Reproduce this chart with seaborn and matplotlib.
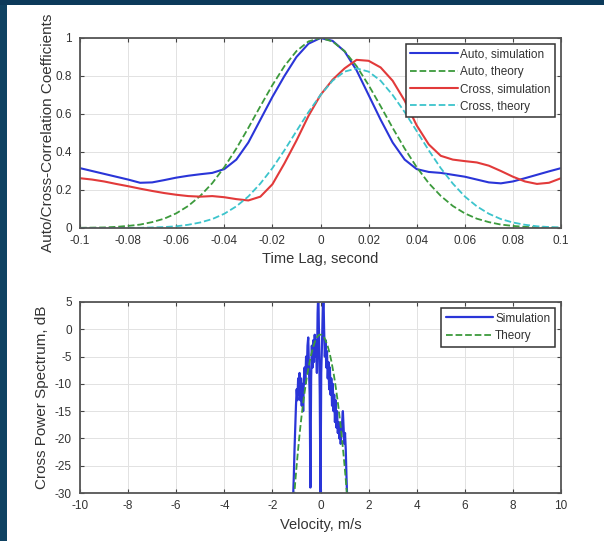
import numpy as np
import pandas as pd
import seaborn as sns
import matplotlib.pyplot as plt
from matplotlib.patches import Rectangle

# ---------------- data ----------------
lag = [-0.1, -0.095, -0.09, -0.085, -0.08, -0.075, -0.07, -0.065, -0.06, -0.055,
       -0.05, -0.045, -0.04, -0.035, -0.03, -0.025, -0.02, -0.015, -0.01, -0.005,
       0.0, 0.005, 0.01, 0.015, 0.02, 0.025, 0.03, 0.035, 0.04, 0.045,
       0.05, 0.055, 0.06, 0.065, 0.07, 0.075, 0.08, 0.085, 0.09, 0.095, 0.1]

auto_sim = [0.315, 0.30, 0.285, 0.27, 0.255, 0.238, 0.24, 0.252, 0.265, 0.275,
            0.283, 0.29, 0.31, 0.36, 0.45, 0.57, 0.69, 0.80, 0.90, 0.97,
            1.0, 0.985, 0.93, 0.83, 0.70, 0.57, 0.45, 0.36, 0.31, 0.295,
            0.29, 0.28, 0.27, 0.255, 0.24, 0.235, 0.245, 0.262, 0.28, 0.298, 0.315]

auto_theory = [0.001, 0.002, 0.003, 0.006, 0.011, 0.018, 0.031, 0.049, 0.077, 0.116,
               0.169, 0.236, 0.320, 0.418, 0.527, 0.641, 0.752, 0.852, 0.931, 0.982,
               1.0, 0.982, 0.931, 0.852, 0.752, 0.641, 0.527, 0.418, 0.320, 0.236,
               0.169, 0.116, 0.077, 0.049, 0.031, 0.018, 0.011, 0.006, 0.003, 0.002, 0.001]

cross_sim = [0.262, 0.255, 0.245, 0.232, 0.22, 0.207, 0.195, 0.184, 0.175, 0.168,
             0.165, 0.168, 0.162, 0.152, 0.145, 0.165, 0.23, 0.34, 0.46, 0.59,
             0.70, 0.78, 0.84, 0.885, 0.88, 0.845, 0.775, 0.67, 0.54, 0.44,
             0.38, 0.36, 0.352, 0.345, 0.328, 0.30, 0.27, 0.245, 0.232, 0.238, 0.262]

cross_theory = [0.0, 0.0, 0.0, 0.0, 0.001, 0.001, 0.003, 0.005, 0.009, 0.017,
                0.029, 0.047, 0.075, 0.114, 0.166, 0.234, 0.315, 0.409, 0.51, 0.61,
                0.70, 0.775, 0.823, 0.84, 0.823, 0.775, 0.70, 0.61, 0.51, 0.409,
                0.315, 0.234, 0.166, 0.114, 0.075, 0.047, 0.029, 0.017, 0.009, 0.005, 0.003]

velocity_sim = [-1.14, -1.11, -1.08, -1.05, -1.02, -0.99, -0.96, -0.93, -0.90, -0.87,
                -0.84, -0.81, -0.78, -0.75, -0.72, -0.69, -0.66, -0.63, -0.60, -0.57,
                -0.54, -0.51, -0.48, -0.45, -0.42, -0.39, -0.36, -0.33, -0.30, -0.27,
                -0.24, -0.21, -0.18, -0.15, -0.12, -0.09, -0.06, -0.03, 0.00, 0.03,
                0.06, 0.09, 0.12, 0.15, 0.18, 0.21, 0.24, 0.27, 0.30, 0.33,
                0.36, 0.39, 0.42, 0.45, 0.48, 0.51, 0.54, 0.57, 0.60, 0.63,
                0.66, 0.69, 0.72, 0.75, 0.78, 0.81, 0.84, 0.87, 0.90, 0.93,
                0.96, 0.99, 1.02, 1.05, 1.08, 1.11, 1.14]

spectrum_sim = [-31, -27, -22, -18, -14, -11, -13, -9, -12, -8,
                -13, -9, -14, -10, -15, -9, -7, -10, -5, -8,
                -3, -1.5, -7, -12, -29, -9, -3, -7, -2, -6,
                -1, -5, -2, -8, 3, 7, -2, -12, -31, -8,
                -3, 2, 7, 0, -5, -2, -7, -4, -9, -6,
                -11, -7, -12, -9, -14, -10, -15, -12, -17, -13,
                -18, -15, -19, -17, -20, -18, -21, -19, -17, -15,
                -18, -21, -19, -22, -27, -31, -33]

velocity_theory = [-1.10, -1.05, -1.00, -0.95, -0.90, -0.85, -0.80, -0.75, -0.70, -0.65,
                   -0.60, -0.55, -0.50, -0.45, -0.40, -0.35, -0.30, -0.25, -0.20, -0.15,
                   -0.10, -0.05, 0.00, 0.05, 0.10, 0.15, 0.20, 0.25, 0.30, 0.35,
                   0.40, 0.45, 0.50, 0.55, 0.60, 0.65, 0.70, 0.75, 0.80, 0.85,
                   0.90, 0.95, 1.00, 1.05, 1.10, 1.15]

spectrum_theory = [-31.0, -28.0, -25.4, -22.9, -20.6, -18.4, -16.4, -14.5, -12.8, -11.2,
                   -9.7, -8.3, -7.1, -5.9, -4.9, -4.0, -3.2, -2.5, -1.9, -1.5,
                   -1.2, -1.0, -1.0, -1.0, -1.2, -1.5, -1.9, -2.5, -3.1, -3.9,
                   -4.8, -5.8, -7.0, -8.2, -9.6, -11.1, -12.7, -14.4, -16.3, -18.2,
                   -20.4, -22.6, -25.0, -27.5, -30.2, -33.0]

lag_ticks = [-0.1, -0.08, -0.06, -0.04, -0.02, 0, 0.02, 0.04, 0.06, 0.08, 0.1]
lag_ticklabels = ["-0.1", "-0.08", "-0.06", "-0.04", "-0.02", "0", "0.02", "0.04", "0.06", "0.08", "0.1"]
coef_ticks = [0, 0.2, 0.4, 0.6, 0.8, 1]
coef_ticklabels = ["0", "0.2", "0.4", "0.6", "0.8", "1"]
vel_ticks = [-10, -8, -6, -4, -2, 0, 2, 4, 6, 8, 10]
vel_ticklabels = ["-10", "-8", "-6", "-4", "-2", "0", "2", "4", "6", "8", "10"]
db_ticks = [-30, -25, -20, -15, -10, -5, 0, 5]
db_ticklabels = ["-30", "-25", "-20", "-15", "-10", "-5", "0", "5"]

# ---------------- style ----------------
sns.set_theme(style="whitegrid")
plt.rcParams['font.family'] = ['Liberation Sans', 'DejaVu Sans']

BLUE = "#2a35d8"
GREEN = "#3c9a3c"
RED = "#e23a3a"
CYAN = "#3cc4cc"

fig = plt.figure(figsize=(6.04, 5.41), dpi=100, facecolor="white")
# dark frame of the slide
fig.patches.append(Rectangle((0, 0), 7 / 604, 1, transform=fig.transFigure,
                             facecolor="#0f4262", edgecolor="none", zorder=-10))
fig.patches.append(Rectangle((0, 1 - 5 / 541), 1, 5 / 541, transform=fig.transFigure,
                             facecolor="#0c3a5a", edgecolor="none", zorder=-10))

ax1 = fig.add_axes([80 / 604, 1 - 228 / 541, 481 / 604, 190 / 541])
ax2 = fig.add_axes([80 / 604, 1 - 493 / 541, 481 / 604, 191 / 541])

df1 = pd.DataFrame({"lag": lag, "auto_sim": auto_sim, "auto_theory": auto_theory,
                    "cross_sim": cross_sim, "cross_theory": cross_theory})

sns.lineplot(data=df1, x="lag", y="auto_sim", ax=ax1, color=BLUE, lw=1.5,
             label="Auto, simulation")
sns.lineplot(data=df1, x="lag", y="auto_theory", ax=ax1, color=GREEN, lw=1.3,
             linestyle="--", label="Auto, theory")
sns.lineplot(data=df1, x="lag", y="cross_sim", ax=ax1, color=RED, lw=1.5,
             label="Cross, simulation")
sns.lineplot(data=df1, x="lag", y="cross_theory", ax=ax1, color=CYAN, lw=1.3,
             linestyle="--", label="Cross, theory")

df_sim = pd.DataFrame({"v": velocity_sim, "db": spectrum_sim})
df_th = pd.DataFrame({"v": velocity_theory, "db": spectrum_theory})
sns.lineplot(data=df_sim, x="v", y="db", ax=ax2, color=BLUE, lw=1.6, label="Simulation")
sns.lineplot(data=df_th, x="v", y="db", ax=ax2, color=GREEN, lw=1.3, linestyle="--",
             label="Theory")

def style_axes(ax, xt, xtl, yt, ytl, xlim, ylim, xlabel, ylabel, ylpad):
    ax.set_xlim(*xlim)
    ax.set_ylim(*ylim)
    ax.set_xticks(xt)
    ax.set_xticklabels(xtl)
    ax.set_yticks(yt)
    ax.set_yticklabels(ytl)
    ax.set_facecolor("white")
    ax.grid(True, color="#e2e2e2", lw=0.7)
    for s in ax.spines.values():
        s.set_color("#555555")
        s.set_linewidth(1.3)
        s.set_visible(True)
    ax.tick_params(direction="in", length=3, width=0.8, color="#444444",
                   top=True, right=True, bottom=True, left=True,
                   labelsize=8.5, labelcolor="#333333")
    ax.tick_params(axis="x", pad=5)
    ax.tick_params(axis="y", pad=6)
    ax.set_xlabel(xlabel, fontsize=10.5, color="#333333", labelpad=4)
    ax.set_ylabel(ylabel, fontsize=11, color="#333333", labelpad=ylpad)

style_axes(ax1, lag_ticks, lag_ticklabels, coef_ticks, coef_ticklabels,
           (-0.1, 0.1), (0, 1), "Time Lag, second",
           "Auto/Cross-Correlation Coefficients", 0)
style_axes(ax2, vel_ticks, vel_ticklabels, db_ticks, db_ticklabels,
           (-10, 10), (-30, 5), "Velocity, m/s", "Cross Power Spectrum, dB", 4)

for ax in (ax1, ax2):
    leg = ax.legend(loc="upper right", frameon=True, fancybox=False, fontsize=8.5,
                    handlelength=4.0, borderpad=0.4, labelspacing=0.45,
                    handletextpad=0.2, borderaxespad=0.5, framealpha=1)
    leg.get_frame().set_edgecolor("#333333")
    leg.get_frame().set_linewidth(1.1)
    for t in leg.get_texts():
        t.set_color("#333333")

fig.savefig("out.png", dpi=100, facecolor="white")
